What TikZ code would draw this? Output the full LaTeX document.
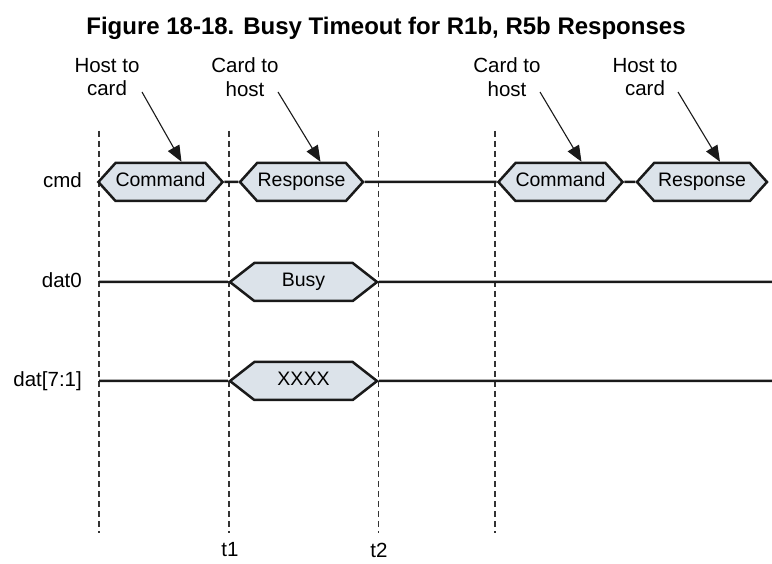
\documentclass[tikz,border=0pt]{standalone}
\usepackage{fontspec}
\setmainfont{Liberation Sans}
\usetikzlibrary{arrows.meta,positioning,shapes.symbols,calc}
\definecolor{tdInk}{HTML}{1A1A1A}
\definecolor{tdFill}{HTML}{DCE3EA}
\definecolor{tdGrid}{HTML}{333333}
\begin{document}
\begin{tikzpicture}[x=1pt,y=-1pt,>={Triangle[length=16pt,width=13pt]},
        font=\fontsize{20.5}{23.5}\selectfont,
        bus/.style={shape=signal,signal to=west and east,draw=tdInk,line width=2.5pt,
                    fill=tdFill,minimum height=38pt,minimum width=123pt,inner xsep=0pt,
                    text height=14pt,text depth=4pt,
                    signal pointer angle=96,font=\fontsize{19.5}{22}\selectfont},
        wide/.style={minimum width=147pt,signal pointer angle=76},
        wire/.style={draw=tdInk,line width=2.5pt},
        guide/.style={draw=tdGrid,line width=1.1pt,dash pattern=on 6pt off 4pt},
        sigl/.style={anchor=east,inner sep=0pt,text height=15pt,text depth=4pt},
        note/.style={align=center,inner sep=0pt},
        callout/.style={->,line width=1.1pt,draw=tdInk}]
        \useasboundingbox[fill=white] (0,0) rectangle (772,564);
        \node[font=\fontsize{24}{28}\selectfont\bfseries,anchor=base] (title) at (386,35)
             {Figure 18-18. Busy Timeout for R1b, R5b Responses};
        \coordinate (g0) at (99,131);
        \coordinate (g1) at (229,131);
        \coordinate (g2) at (378.5,131);
        \coordinate (g3) at (495,131);
        \coordinate (rgt) at (772,131);
        \foreach \g in {g0,g1,g2,g3}
            \draw[guide] (\g) -- ++(0,402);
        \node[bus] (cmdA) at (160.5,182) {Command};
        \node[bus] (resA) at (301.5,182) {Response};
        \node[bus] (cmdB) at (560.5,182) {Command};
        \node[bus,minimum width=130pt] (resB) at (702,182) {Response};
        \node[bus,wide] (busy) at (303.5,282) {Busy};
        \node[bus,wide] (xxxx) at (303.5,381) {XXXX};
        \node[sigl] (cmd) at (82,182) {cmd};
        \node[sigl] (dat0) at (82,282) {dat0};
        \node[sigl] (datx) at (82,381) {dat[7:1]};
        \draw[wire] (cmdA) -- (resA);
        \draw[wire] (resA) -- (cmdB);
        \draw[wire] (cmdB) -- (resB);
        \draw[wire] (g0 |- busy) -- (busy);
        \draw[wire] (busy) -- (rgt |- busy);
        \draw[wire] (g0 |- xxxx) -- (xxxx);
        \draw[wire] (xxxx) -- (rgt |- xxxx);
        \node[note] (n1) at (107,77) {Host to\\card};
        \node[note] (n2) at (245,77) {Card to\\host};
        \node[note] (n3) at (507,77) {Card to\\host};
        \node[note] (n4) at (645,77) {Host to\\card};
        \draw[callout] ($(n1.center)+(35,15)$) -- ($(cmdA.north)+(21,0)$);
        \draw[callout] ($(n2.center)+(33,15)$) -- ($(resA.north)+(19,0)$);
        \draw[callout] ($(n3.center)+(33,15)$) -- ($(cmdB.north)+(21,0)$);
        \draw[callout] ($(n4.center)+(33,15)$) -- ($(resB.north)+(18,0)$);
        \node (t1) at (230,550) {t1};
        \node (t2) at (379,550) {t2};
      \end{tikzpicture}
\end{document}
